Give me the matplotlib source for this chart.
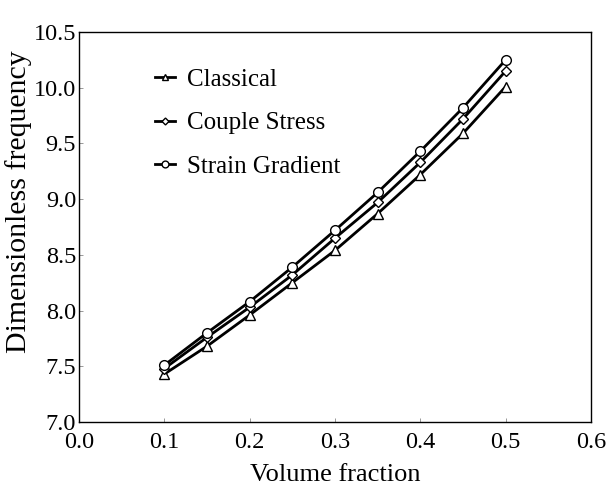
import numpy as np
import matplotlib.pyplot as plt

plt.rcParams['font.family'] = ['Liberation Serif', 'DejaVu Serif']

volume_fraction = [0.10, 0.15, 0.20, 0.25, 0.30, 0.35, 0.40, 0.45, 0.50]
classical = [7.43, 7.68, 7.96, 8.25, 8.54, 8.87, 9.22, 9.59, 10.01]
couple_stress = [7.48, 7.76, 8.03, 8.32, 8.65, 8.97, 9.33, 9.72, 10.15]
strain_gradient = [7.51, 7.80, 8.08, 8.39, 8.72, 9.06, 9.43, 9.82, 10.25]

fig = plt.figure(figsize=(6.07, 4.93), dpi=100)
ax = fig.add_axes([79/607, 71/493, 512/607, 390/493])

style = dict(color='black', lw=2.0, ms=7, mfc='white', mec='black', mew=1.0)
ax.plot(volume_fraction, classical, marker='^', label='Classical', **style)
ax.plot(volume_fraction, couple_stress, marker='D', label='Couple Stress', **dict(style, ms=5))
ax.plot(volume_fraction, strain_gradient, marker='o', label='Strain Gradient', **style)

ax.set_xlim(0.0, 0.6)
ax.set_ylim(7.0, 10.5)
ax.set_xticks(np.arange(0, 0.61, 0.1))
ax.set_yticks(np.arange(7.0, 10.51, 0.5))
ax.set_xticklabels(['0.0', '0.1', '0.2', '0.3', '0.4', '0.5', '0.6'])
ax.set_yticklabels(['7.0', '7.5', '8.0', '8.5', '9.0', '9.5', '10.0', '10.5'])
ax.tick_params(direction='in', length=3, width=0.6, labelsize=17.5, color='#888888')
ax.tick_params(axis='x', pad=7)
ax.tick_params(axis='y', pad=2)
for lbl in ax.get_yticklabels():
    lbl.set_verticalalignment('center_baseline')
for s in ax.spines.values():
    s.set_linewidth(1.0)

ax.set_xlabel('Volume fraction', fontsize=19, labelpad=8)
ax.set_ylabel('Dimensionless frequency', fontsize=21.5)
ax.yaxis.set_label_coords(-0.092, 0.565)

ax.legend(loc='upper left', bbox_to_anchor=(0.105, 0.965), frameon=False, fontsize=18,
          handlelength=0.8, handletextpad=0.45, labelspacing=0.85, markerscale=0.7)

fig.savefig('out.png', dpi=100)
